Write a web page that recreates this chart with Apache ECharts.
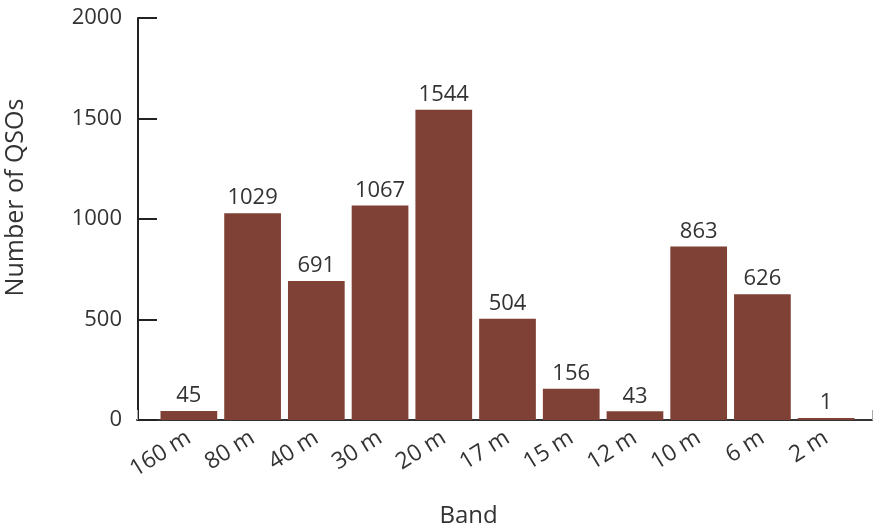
<!DOCTYPE html>
<html>
<head>
<meta charset="utf-8">
<script src="https://cdn.jsdelivr.net/npm/echarts@6/dist/echarts.min.js"></script>
<style>html,body{margin:0;padding:0;background:#fff}#c{width:873px;height:526px}</style>
</head>
<body>
<div id="c"></div>
<script>
const categories = ['160 m', '80 m', '40 m', '30 m', '20 m', '17 m', '15 m', '12 m', '10 m', '6 m', '2 m'];
const qsos = [45, 1029, 691, 1067, 1544, 504, 156, 43, 863, 626, 1];
const yTicks = { min: 0, max: 2000, interval: 500 };

const FONT = "'Open Sans', sans-serif";
const TXT = '#333';
const chart = echarts.init(document.getElementById('c'), null, { renderer: 'canvas' });
chart.setOption({
  animation: false,
  textStyle: { fontFamily: FONT },
  grid: [
    { left: 157, right: 15, top: 18, bottom: 106, containLabel: false, outerBoundsMode: 'none' },
    { left: 137, right: 1, top: 18, bottom: 106, containLabel: false, outerBoundsMode: 'none' }
  ],
  xAxis: [
    {
      gridIndex: 0, type: 'category', data: categories,
      axisLine: { show: false }, axisTick: { show: false },
      axisLabel: { rotate: 32, fontSize: 23, color: TXT, margin: 16, fontFamily: FONT },
      name: 'Band', nameLocation: 'middle', nameGap: 84,
      nameTextStyle: { fontSize: 24, color: TXT, fontFamily: FONT, padding: [0, 78, 0, 0] }
    },
    {
      gridIndex: 1, type: 'value', min: 0, max: 1, interval: 1,
      axisLine: { show: true, lineStyle: { color: '#333', width: 2 } },
      axisTick: { show: true, inside: true, length: 10, lineStyle: { color: '#aaa', width: 1 } },
      axisLabel: { show: false }, splitLine: { show: false }
    }
  ],
  yAxis: [
    {
      gridIndex: 0, type: 'value', min: yTicks.min, max: yTicks.max, interval: yTicks.interval,
      offset: 19,
      axisLine: { show: true, lineStyle: { color: '#222', width: 2 } },
      axisTick: { show: true, inside: true, length: 19, lineStyle: { color: '#222', width: 2 } },
      axisLabel: { fontSize: 22, color: TXT, margin: 16, fontFamily: FONT, formatter: v => String(v) },
      splitLine: { show: false },
      name: 'Number of QSOs', nameLocation: 'middle', nameGap: 110,
      nameTextStyle: { fontSize: 25, color: TXT, fontFamily: FONT, padding: [0, 0, 0, 43] }
    },
    {
      gridIndex: 1, type: 'value', show: false
    }
  ],
  series: [{
    type: 'bar', xAxisIndex: 0, yAxisIndex: 0, data: qsos,
    barCategoryGap: '11%', barMinHeight: 2,
    itemStyle: { color: '#7f4035' },
    label: { show: true, position: 'top', distance: 4, fontSize: 22, color: TXT, fontFamily: FONT }
  }]
});
</script>
</body>
</html>
